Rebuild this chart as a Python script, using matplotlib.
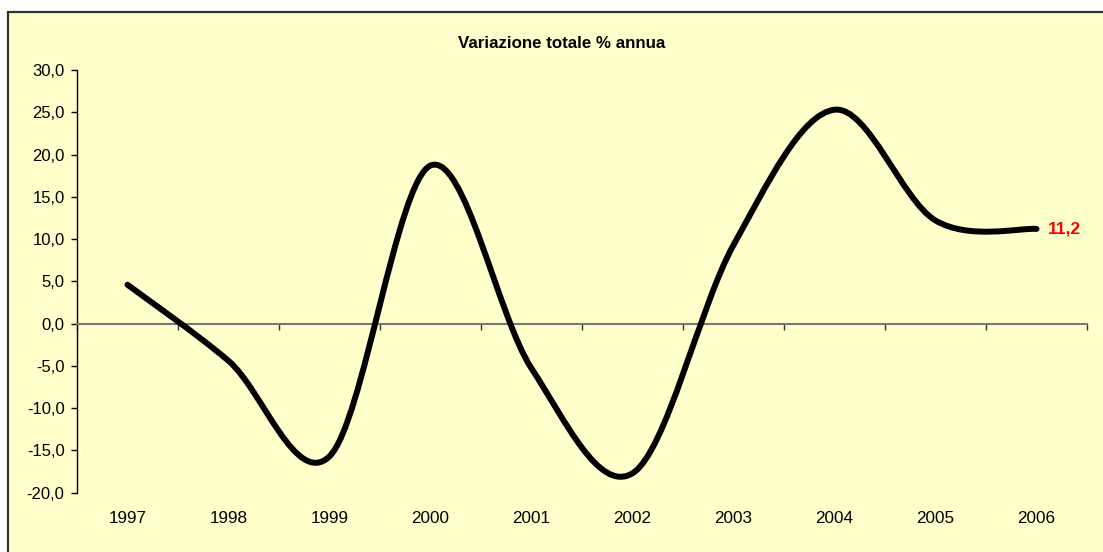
import numpy as np
import matplotlib.pyplot as plt
from matplotlib.path import Path
from matplotlib.patches import PathPatch, Rectangle
from matplotlib.ticker import FuncFormatter, FixedLocator
import matplotlib.transforms as mtransforms

plt.rcParams['font.family'] = ['Liberation Sans', 'DejaVu Sans']

years = ['1997', '1998', '1999', '2000', '2001', '2002', '2003', '2004', '2005', '2006']
variazione = [4.6, -4.4, -15.7, 18.7, -5.3, -17.7, 9.3, 25.3, 12.2, 11.2]
last_label = '11,2'
title = 'Variazione totale % annua'


def smooth_path(xs, ys):
    # Excel-like smoothed line: Catmull-Rom segments as cubic beziers
    pts = np.column_stack([xs, ys])
    n = len(pts)
    verts = [pts[0]]
    codes = [Path.MOVETO]
    for i in range(n - 1):
        p0 = pts[i - 1] if i > 0 else pts[i]
        p1 = pts[i]
        p2 = pts[i + 1]
        p3 = pts[i + 2] if i + 2 < n else pts[i + 1]
        c1 = p1 + (p2 - p0) / 6.0
        c2 = p2 - (p3 - p1) / 6.0
        verts += [c1, c2, p2]
        codes += [Path.CURVE4] * 3
    return Path(verts, codes)


W, H = 1103, 552
fig = plt.figure(figsize=(W / 100, H / 100), dpi=100)
fig.patch.set_facecolor('white')

# chart area background with border (left/top visible)
bg = Rectangle((8 / W, -0.05), 1.05, 1 - 12 / H + 0.05,
               transform=fig.transFigure, facecolor='#FFFFCC',
               edgecolor='#333333', linewidth=1.6, zorder=-5)
fig.patches.append(bg)

ax = fig.add_axes([77 / W, (H - 492.7) / H, 1010 / W, 422.7 / H])
ax.set_zorder(2)
ax.set_facecolor('none')

x = np.arange(len(years)) + 0.5
path = smooth_path(x, variazione)
ax.add_patch(PathPatch(path, facecolor='none', edgecolor='black', linewidth=4.3,
                       capstyle='round', joinstyle='round', zorder=3))

ax.set_xlim(0, len(years))
ax.set_ylim(-20, 30)
ax.set_yticks(np.arange(-20, 31, 5))
ax.yaxis.set_major_formatter(FuncFormatter(lambda v, p: ('%.1f' % v).replace('.', ',')))
ax.tick_params(axis='y', direction='out', length=4, width=1, colors='black',
               labelsize=12, pad=5)

for s in ['top', 'right']:
    ax.spines[s].set_visible(False)
ax.spines['left'].set_color('black')
ax.spines['left'].set_linewidth(1)
ax.spines['bottom'].set_position(('data', 0))
ax.spines['bottom'].set_color('#777777')
ax.spines['bottom'].set_linewidth(1.5)

ax.xaxis.set_major_locator(FixedLocator(np.arange(len(years) + 1)))
ax.tick_params(axis='x', direction='out', length=4, width=1, colors='#333333',
               labelbottom=False)

trans = mtransforms.blended_transform_factory(ax.transData, ax.transAxes)
for xi, yr in zip(x, years):
    ax.text(xi, -0.06, yr, transform=trans, ha='center', va='center',
            fontsize=12.3, color='black')

ax.annotate(last_label, (x[-1], variazione[-1]), xytext=(8.5, 0),
            textcoords='offset points', ha='left', va='center',
            fontsize=12.5, fontweight='bold', color='red')

fig.text(562 / W, 1 - 44 / H, title, ha='center', va='center',
         fontsize=12.2, fontweight='bold')

fig.savefig('out.png', dpi=100)
